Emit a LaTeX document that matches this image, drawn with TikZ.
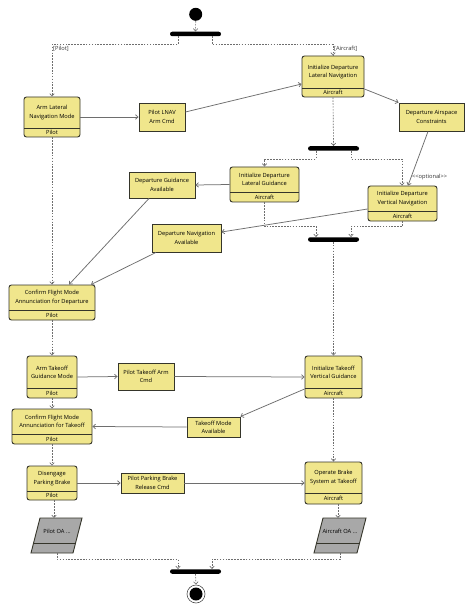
\documentclass[tikz,border=0pt]{standalone}
\usepackage{fontspec}
\setmainfont{Open Sans}
\usetikzlibrary{arrows.meta,calc}
\definecolor{actfill}{HTML}{F0E68C}
\definecolor{actdraw}{HTML}{35352A}
\definecolor{flow}{HTML}{6E6E6E}
\definecolor{oafill}{HTML}{A8A8A8}
\newcommand{\boxfont}{\fontsize{5.7}{8.3}\selectfont}
\tikzset{
 actbox/.style={draw=actdraw, fill=actfill, line width=0.9pt, rounded corners=2.5pt, inner sep=0pt},
 objbox/.style={draw=actdraw, fill=actfill, line width=0.9pt, inner sep=0pt, align=center, font=\boxfont, text=black},
 divline/.style={draw=actdraw, line width=0.6pt},
 lbl/.style={inner sep=0pt, align=center, font=\boxfont, text=black},
 barnode/.style={fill=black, rounded corners=2.2pt, inner sep=0pt, minimum width=51pt, minimum height=4.5pt},
 ctrl/.style={draw=flow, line width=0.65pt, dash pattern=on 1.6pt off 1.3pt, -{Straight Barb[length=2.5pt,width=4.5pt]}},
 obj/.style={draw=flow, line width=0.75pt, -{Straight Barb[length=2.5pt,width=4.5pt]}},
 guard/.style={inner sep=0pt, anchor=west, font=\boxfont, text=black!80},
}
% name, x1, y1, x2, y2, ydiv, text, lane
\newcommand{\actnode}[8]{%
 \node[actbox, minimum width={(#4-#2)*1pt}, minimum height={(#5-#3)*1pt}] (#1) at ({(#2+#4)/2},{(#3+#5)/2}) {};
 \draw[divline] (#2,#6) -- (#4,#6);
 \node[lbl] (#1-t) at ({(#2+#4)/2},{(#3+#6)/2}) {#7};
 \node[lbl] (#1-l) at ({(#2+#4)/2},{(#6+#5)/2}) {#8};
}
% name, x1, y1, x2, y2, text
\newcommand{\objnode}[6]{%
 \node[objbox, minimum width={(#4-#2)*1pt}, minimum height={(#5-#3)*1pt}] (#1) at ({(#2+#4)/2},{(#3+#5)/2}) {#6};
}
\begin{document}
\begin{tikzpicture}[x=1pt,y=-1pt]
\fill[white] (0,0) rectangle (474,612);
\useasboundingbox (0,0) rectangle (474,612);

% start and bars
\node[circle, fill=black, minimum size=13pt, inner sep=0pt] (start) at (195.7,14.3) {};
\node[barnode] (fork1) at (195.5,34) {};
\node[barnode] (fork2) at (333.5,148.5) {};
\node[barnode] (join1) at (333.5,239.5) {};
\node[barnode] (join2) at (195.5,571.5) {};
\node[circle, draw=black!70, fill=white, line width=0.6pt, minimum size=18pt, inner sep=0pt] (final) at (196,594) {};
\node[circle, fill=black, minimum size=13pt, inner sep=0pt] (finalin) at (final) {};

% actions
\actnode{armlat}{24}{97}{80}{137}{128}{Arm Lateral\\Navigation Mode}{Pilot}
\objnode{lnavcmd}{139}{103}{185}{131}{Pilot LNAV\\Arm Cmd}
\actnode{initlatnav}{302}{56}{364}{97}{88}{Initialize Departure\\Lateral Navigation}{Aircraft}
\objnode{depair}{399}{103}{464}{131}{Departure Airspace\\Constraints}
\actnode{initlatguid}{230}{167}{299}{202}{192}{Initialize Departure\\Lateral Guidance}{Aircraft}
\objnode{depguid}{129}{172}{195}{198}{Departure Guidance\\Available}
\actnode{initvert}{368}{186}{437}{221}{211}{Initialize Departure\\Vertical Navigation}{Aircraft}
\objnode{depnav}{152}{224}{221}{252}{Departure Navigation\\Available}
\actnode{confdep}{9}{285}{95}{320}{310}{Confirm Flight Mode\\Annunciation for Departure}{Pilot}
\actnode{armto}{27}{356}{77}{398}{388}{Arm Takeoff\\Guidance Mode}{Pilot}
\objnode{tocmd}{118}{363}{174}{390}{Pilot Takeoff Arm\\Cmd}
\actnode{inittov}{305}{356}{362}{398}{388}{Initialize Takeoff\\Vertical Guidance}{Aircraft}
\objnode{tomode}{187}{417}{240}{437}{Takeoff Mode\\Available}
\actnode{confto}{12}{409}{92}{444}{434}{Confirm Flight Mode\\Annunciation for Takeoff}{Pilot}
\actnode{diseng}{27}{466}{77}{500}{491}{Disengage\\Parking Brake}{Pilot}
\objnode{brkcmd}{121}{473}{184}{493}{Pilot Parking Brake\\Release Cmd}
\actnode{operate}{305}{462}{362}{504}{493}{Operate Brake\\System at Takeoff}{Aircraft}

% OA parallelograms
\filldraw[fill=oafill, draw=actdraw, line width=0.9pt] (40,518) -- (82,518) -- (73,553) -- (31,553) -- cycle;
\draw[divline] (33.6,543) -- (75.6,543);
\node[lbl] (pilotoa) at (57,531) {Pilot OA ...};
\filldraw[fill=oafill, draw=actdraw, line width=0.9pt] (323,518) -- (366,518) -- (357,553) -- (314,553) -- cycle;
\draw[divline] (316.6,543) -- (359.6,543);
\node[lbl] (acoa) at (340,531) {Aircraft OA ...};
\coordinate (poaT) at (54,518);
\coordinate (poaB) at (57,553);
\coordinate (acoaT) at (338,518);
\coordinate (acoaB) at (340,553);

% control flows
\draw[ctrl] (start.south) -- (fork1.north);
\draw[ctrl] ([xshift=-17.5pt]fork1.south) -- ++(0,8) -| (armlat.north);
\node[guard] (gpilot) at (53,49) {[Pilot]};
\draw[ctrl] ([xshift=16.5pt]fork1.south) -- ++(0,8) -| (initlatnav.north);
\node[guard] (gaircraft) at (334,49) {[Aircraft]};
\draw[ctrl] (initlatnav.south) -- (fork2.north);
\draw[ctrl] ([xshift=-17.5pt]fork2.south) -- ++(0,8) -| (initlatguid.north);
\draw[ctrl] ([xshift=17.5pt]fork2.south) -- ++(0,8) -| ([xshift=-0.5pt]initvert.north);
\draw[ctrl] (initlatguid.south) -- ++(0,24) -| ([xshift=-17.5pt]join1.north);
\draw[ctrl] (initvert.south) -- ++(0,5) -| ([xshift=17.5pt]join1.north);
\draw[ctrl] (join1.south) -- (inittov.north);
\draw[ctrl] (armlat.south) -- (confdep.north);
\draw[ctrl] (confdep.south) -- (armto.north);
\draw[ctrl] (armto.south) -- (confto.north);
\draw[ctrl] (confto.south) -- (diseng.north);
\draw[ctrl] (inittov.south) -- (operate.north);
\draw[ctrl] ([xshift=2pt]diseng.south) -- (poaT);
\draw[ctrl] ([xshift=4.5pt]operate.south) -- (acoaT);
\draw[ctrl] (poaB) -- ++(0,6) -| ([xshift=-17.5pt]join2.north);
\draw[ctrl] (acoaB) -- ++(0,6) -| ([xshift=16.5pt]join2.north);
\draw[ctrl] (join2.south) -- (final.north);

% object flows
\draw[obj] (armlat.east) -- (lnavcmd.west);
\draw[obj] ([yshift=5pt]lnavcmd.east) -- ([yshift=-7.5pt]initlatnav.west);
\draw[obj] ([yshift=-12.5pt]initlatnav.east) -- (depair.north west);
\draw[obj] ([xshift=-3.5pt]depair.south) -- ([xshift=5.5pt]initvert.north);
\node[guard] (gopt) at (412,177) {<{}<optional>{}>};
\draw[obj] (initlatguid.west) -- (depguid.east);
\draw[obj] ([yshift=-5.5pt]initvert.west) -- ([yshift=6pt]depnav.east);
\draw[obj] ([xshift=-13pt]depguid.south) -- ([xshift=17pt]confdep.north);
\draw[obj] ([xshift=-30.5pt]depnav.south) -- ([xshift=39pt]confdep.north);
\draw[obj] (armto.east) -- (tocmd.west);
\draw[obj] (tocmd.east) -- (inittov.west);
\draw[obj] ([yshift=-12pt]inittov.west) -- (tomode.north east);
\draw[obj] (tomode.west) -- (confto.east);
\draw[obj] (diseng.east) -- (brkcmd.west);
\draw[obj] (brkcmd.east) -- (operate.west);
\end{tikzpicture}
\end{document}
